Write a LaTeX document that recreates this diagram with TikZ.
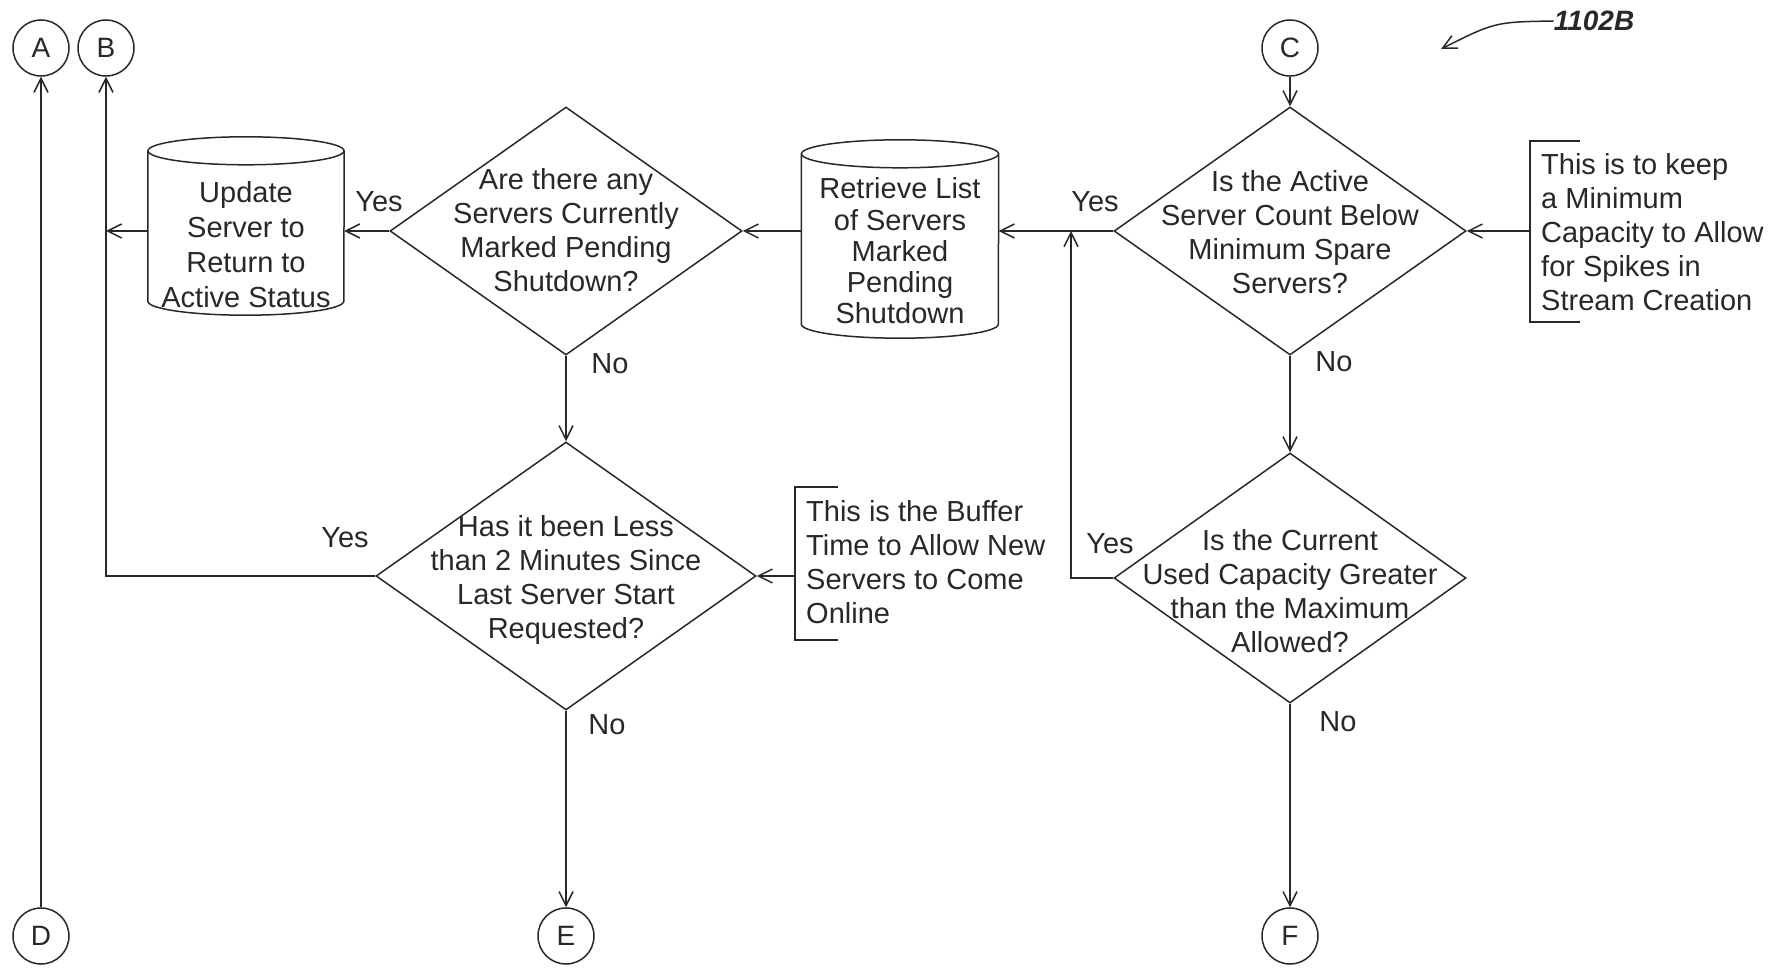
\documentclass[tikz,border=0pt]{standalone}
\usepackage{fontspec}
\setmainfont{Liberation Sans}
\usetikzlibrary{shapes.geometric, arrows.meta}
\definecolor{ink}{RGB}{40,40,40}
\tikzset{
  every node/.style={text=ink, font=\fontsize{29}{34}\selectfont},
  plain/.style={draw=ink, line width=1.5pt},
  conn/.style={plain, -{Straight Barb[length=14pt,width=14pt,line width=1.5pt]}},
  conncirc/.style={circle, draw=ink, line width=1.5pt, minimum size=56pt, inner sep=0pt, font=\fontsize{28}{30}\selectfont},
  decision/.style={diamond, draw=ink, line width=1.5pt, inner sep=0pt},
  txt/.style={align=center, inner sep=0pt},
  note/.style={align=left, inner sep=0pt, anchor=west},
  lbl/.style={inner sep=0pt},
  cylbox/.style={inner sep=0pt},
}
\begin{document}
\begin{tikzpicture}[x=1pt,y=-1pt]
\useasboundingbox (0,0) rectangle (1786,968);

% connector circles
\node[conncirc] (A) at (41,48) {A};
\node[conncirc] (B) at (106,48) {B};
\node[conncirc] (C) at (1290,48) {C};
\node[conncirc] (D) at (41,936) {D};
\node[conncirc] (E) at (566,936) {E};
\node[conncirc] (F) at (1290,936) {F};

% decisions
\node[decision, minimum width=352pt, minimum height=248pt] (q1) at (566,231) {};
\node[decision, minimum width=352pt, minimum height=248pt] (q2) at (1290,231) {};
\node[decision, minimum width=380pt, minimum height=268pt] (q3) at (566,576) {};
\node[decision, minimum width=352pt, minimum height=250pt] (q4) at (1290,578) {};

\node[txt] (t1) at (566,230) {Are there any\\Servers Currently\\Marked Pending\\Shutdown?};
\node[txt] (t2) at (1290,232) {Is the Active\\Server Count Below\\Minimum Spare\\Servers?};
\node[txt] (t3) at (566,580) {Has it been Less\\than 2 Minutes Since\\Last Server Start\\Requested?};
\node[txt] (t4) at (1290,591) {Is the Current\\Used Capacity Greater\\than the Maximum\\Allowed?};

% cylinders
\node[cylbox, minimum width=196pt, minimum height=178pt] (u) at (246,226) {};
\draw[plain] ([yshift=-14pt]u.north west) -- ([yshift=14pt]u.south west)
  arc[start angle=180, end angle=360, x radius=98pt, y radius=14pt]
  -- ([yshift=-14pt]u.north east);
\draw[plain] ([yshift=-14pt]u.north) ellipse[x radius=98pt, y radius=14pt];
\node[txt, font=\fontsize{29}{35}\selectfont] (ut) at (246,245) {Update\\Server to\\Return to\\Active Status};

\node[cylbox, minimum width=197pt, minimum height=198pt] (r) at (900,239) {};
\draw[plain] ([yshift=-14pt]r.north west) -- ([yshift=14pt]r.south west)
  arc[start angle=180, end angle=360, x radius=98.5pt, y radius=14pt]
  -- ([yshift=-14pt]r.north east);
\draw[plain] ([yshift=-14pt]r.north) ellipse[x radius=98.5pt, y radius=14pt];
\node[txt, font=\fontsize{29}{31.3}\selectfont] (rt) at (900,251) {Retrieve List\\of Servers\\Marked\\Pending\\Shutdown};

% notes
\draw[plain] (1580,141) -- (1530,141) -- (1530,322) -- (1580,322);
\coordinate (n1a) at (1530,231);
\node[note] (n1) at (1541,232) {This is to keep\\a Minimum\\Capacity to Allow\\for Spikes in\\Stream Creation};

\draw[plain] (838,487) -- (795,487) -- (795,640) -- (838,640);
\coordinate (n2a) at (795,576);
\node[note] (n2) at (806,562) {This is the Buffer\\Time to Allow New\\Servers to Come\\Online};

% connectors
\draw[conn] (C) -- (q2.north);
\draw[conn] (q2.west) -- (q2.west -| r.east);
\draw[conn] (q1.east -| r.west) -- (q1.east);
\draw[conn] (q1.west) -- (q1.west -| u.east);
\draw[conn] (u.west |- q1.west) -- (B |- q1.west);
\draw[conn] (q3.west) -| (B.south);
\draw[conn] (D.north) -- (A.south);
\draw[conn] (q1.south) -- (q3.north);
\draw[conn] (q3.south) -- (E.north);
\draw[conn] (q2.south) -- (q4.north);
\draw[conn] (q4.south) -- (F.north);
\coordinate (j) at (1071,231);
\draw[conn] (q4.west) -| (j);
\draw[conn] (n1a) -- (q2.east);
\draw[conn] (n2a) -- (q3.east);

% labels
\node[lbl] (y1) at (379,202) {Yes};
\node[lbl] (y2) at (1095,202) {Yes};
\node[lbl] (y3) at (345,538) {Yes};
\node[lbl] (y4) at (1110,544) {Yes};
\node[lbl] (no1) at (610,364) {No};
\node[lbl] (no2) at (1334,362) {No};
\node[lbl] (no3) at (607,725) {No};
\node[lbl] (no4) at (1338,722) {No};

% reference numeral
\node[lbl, font=\fontsize{28}{30}\selectfont\bfseries\itshape] (ref) at (1594,21) {1102B};
\coordinate (refend) at (1441,49);
\draw[conn] (ref.west) .. controls (1495,22) .. (refend);
\end{tikzpicture}
\end{document}
